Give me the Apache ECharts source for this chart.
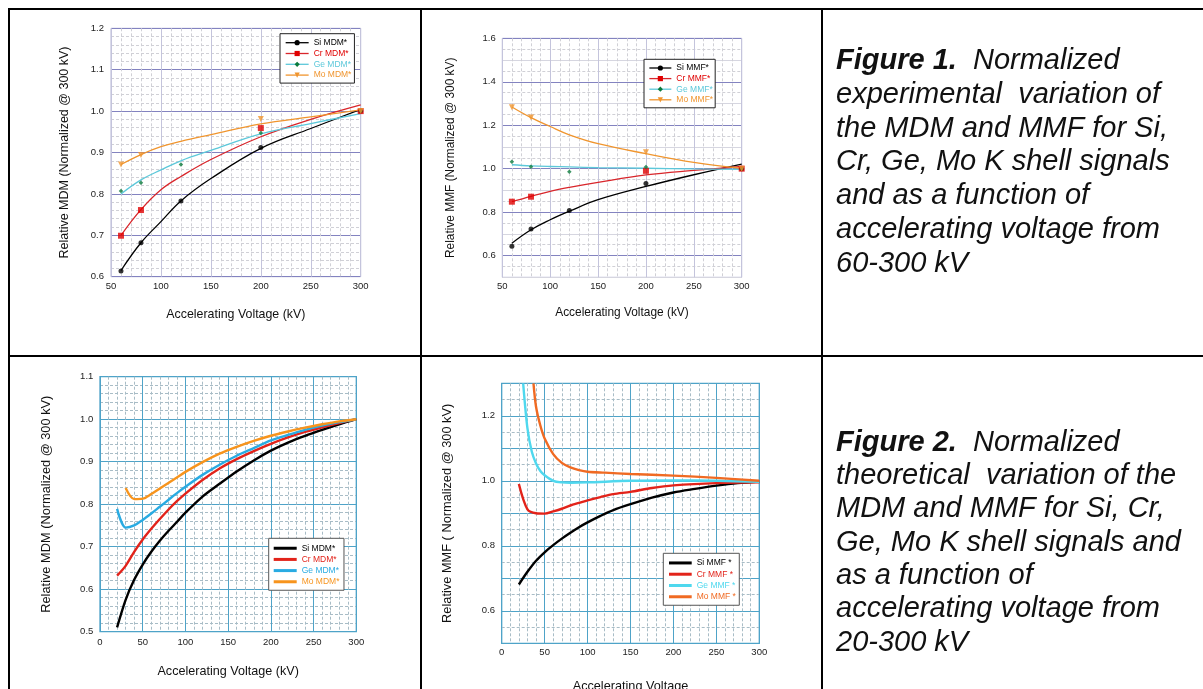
<!DOCTYPE html>
<html><head><meta charset="utf-8">
<script src="https://cdn.jsdelivr.net/npm/echarts@6/dist/echarts.min.js"></script>
<style>html,body{margin:0;padding:0;background:#fff;}#c{width:1203px;height:689px;}</style>
</head><body><div id="c"></div>
<script>
// ---------- Figure 1 (experimental) : fit curves ----------
const expFitX = [60, 80, 100, 120, 150, 200, 250, 300];
const mdmSiFit = [0.615, 0.682, 0.733, 0.783, 0.837, 0.910, 0.958, 1.004];
const mdmCrFit = [0.700, 0.762, 0.810, 0.842, 0.883, 0.938, 0.980, 1.015];
const mdmGeFit = [0.800, 0.834, 0.858, 0.880, 0.905, 0.945, 0.970, 0.994];
const mdmMoFit = [0.871, 0.895, 0.914, 0.927, 0.943, 0.969, 0.986, 1.003];
// measured points
const ptsX5 = [60, 80, 120, 200, 300];
const ptsX4 = [60, 80, 200, 300];
const mdmSiPts = [0.614, 0.682, 0.783, 0.912, 1.0];
const mdmCrPts = [0.699, 0.761, 0.959, 1.0];
const mdmGePts = [0.807, 0.827, 0.871, 0.947, 1.0];
const mdmMoPts = [0.871, 0.894, 0.981, 1.0];

const mmfSiFit = [0.657, 0.719, 0.765, 0.804, 0.857, 0.918, 0.972, 1.021];
const mmfCrFit = [0.848, 0.873, 0.896, 0.914, 0.937, 0.971, 0.992, 1.010];
const mmfGeFit = [1.018, 1.013, 1.010, 1.008, 1.005, 1.002, 0.999, 0.997];
const mmfMoFit = [1.284, 1.235, 1.194, 1.156, 1.115, 1.069, 1.029, 1.002];
const mmfSiPts = [0.643, 0.722, 0.808, 0.932, 1.0];
const mmfCrPts = [0.848, 0.871, 0.990, 1.0];
const mmfGePts = [1.032, 1.009, 0.986, 1.008, 1.0];
const mmfMoPts = [1.283, 1.236, 1.076, 1.0];

// ---------- Figure 2 (theoretical) ----------
const thX = [20, 30, 40, 50, 60, 70, 80, 90, 100, 120, 140, 160, 180, 200, 220, 240, 260, 280, 300];
const tMdmSi = [0.510, 0.575, 0.622, 0.658, 0.688, 0.714, 0.737, 0.758, 0.780, 0.818, 0.848, 0.877, 0.903, 0.926, 0.945, 0.961, 0.975, 0.988, 1.0];
const tMdmCr = [0.632, 0.655, 0.688, 0.717, 0.742, 0.765, 0.787, 0.807, 0.825, 0.857, 0.884, 0.906, 0.925, 0.942, 0.957, 0.970, 0.981, 0.991, 1.0];
const tMdmGe = [0.789, 0.745, 0.750, 0.763, 0.778, 0.794, 0.810, 0.826, 0.841, 0.869, 0.893, 0.914, 0.932, 0.950, 0.963, 0.975, 0.985, 0.993, 1.0];
const tMdmMo = [null, 0.838, 0.812, 0.813, 0.824, 0.837, 0.850, 0.863, 0.876, 0.899, 0.919, 0.935, 0.949, 0.961, 0.971, 0.980, 0.988, 0.995, 1.0];

const tMmfSiX = [20, 30, 40, 50, 60, 70, 80, 90, 100, 115, 130, 150, 175, 200, 225, 250, 275, 300];
const tMmfSi  = [0.681, 0.720, 0.754, 0.780, 0.802, 0.822, 0.840, 0.857, 0.872, 0.892, 0.910, 0.928, 0.948, 0.964, 0.975, 0.985, 0.993, 0.998];
const tMmfCrX = [20, 30, 40, 50, 60, 70, 80, 90, 100, 115, 130, 150, 175, 200, 250, 300];
const tMmfCr  = [0.990, 0.912, 0.900, 0.899, 0.906, 0.914, 0.924, 0.932, 0.940, 0.950, 0.959, 0.966, 0.978, 0.986, 0.993, 0.995];
const tMmfGeX = [25, 30, 35, 40, 45, 50, 60, 70, 80, 100, 150, 200, 250, 300];
const tMmfGe  = [1.300, 1.161, 1.090, 1.053, 1.030, 1.017, 1.000, 0.995, 0.994, 0.995, 1.000, 1.001, 1.000, 0.997];
const tMmfMoX = [37, 40, 45, 50, 60, 70, 80, 90, 100, 120, 150, 200, 250, 300];
const tMmfMo  = [1.300, 1.228, 1.170, 1.130, 1.082, 1.055, 1.041, 1.033, 1.028, 1.025, 1.021, 1.016, 1.009, 1.000];

// captions
const cap1 = ['{b|Figure 1.}  Normalized', 'experimental  variation of', 'the MDM and MMF for Si,', 'Cr, Ge, Mo K shell signals', 'and as a function of', 'accelerating voltage from', '60-300 kV'];
const cap2 = ['{b|Figure 2.}  Normalized', 'theoretical  variation of the', 'MDM and MMF for Si, Cr,', 'Ge, Mo K shell signals and', 'as a function of', 'accelerating voltage from', '20-300 kV'];

const FONT = '"Liberation Sans", Arial, Helvetica, sans-serif';
const P = (xs, ys) => xs.map((x, i) => [x, ys[i]]).filter(d => d[1] != null);
const f1 = v => v.toFixed(1);
const fEven = v => (Math.round(v * 10) % 2 === 0 ? v.toFixed(1) : '');

const C = {
  si: '#000000', cr: '#d9262b', crM: '#e00000', geL: '#5cc8da', geM: '#0b7a3c', mo: '#f0952e',
  t_si: '#000000', t_cr: '#e2231a', t_ge: '#29abe2', t_mo: '#f7941d',
  m_ge: '#4fd8ee', m_mo: '#f06a22'
};

function xAx(gi, min, name, nameGap, nameSize, margin, major, minor) {
  return {
    type: 'value', gridIndex: gi, min: min, max: 300, interval: 50,
    name: name, nameLocation: 'middle', nameGap: nameGap,
    nameTextStyle: { fontSize: nameSize, color: '#111', fontFamily: FONT },
    axisLine: { show: false }, axisTick: { show: false },
    axisLabel: { fontSize: 9.5, color: '#222', margin: margin, fontFamily: FONT },
    splitLine: { show: true, lineStyle: { color: major, width: 1 } },
    minorTick: { show: false, splitNumber: 5 },
    minorSplitLine: { show: true, lineStyle: { color: minor, width: 1, type: [3, 2] } }
  };
}
function yAx(gi, min, max, interval, minorN, name, nameGap, nameSize, margin, major, minor, fmt) {
  return {
    type: 'value', gridIndex: gi, min: min, max: max, interval: interval,
    name: name, nameLocation: 'middle', nameGap: nameGap,
    nameTextStyle: { fontSize: nameSize, color: '#111', fontFamily: FONT },
    axisLine: { show: false }, axisTick: { show: false },
    axisLabel: { fontSize: 9.5, color: '#222', margin: margin, fontFamily: FONT, formatter: fmt },
    splitLine: { show: true, lineStyle: { color: major, width: 1 } },
    minorTick: { show: false, splitNumber: minorN },
    minorSplitLine: { show: true, lineStyle: { color: minor, width: 1, type: [3, 2] } }
  };
}
function fitLine(name, gi, xs, ys, color, markColor, symbol, rot) {
  return {
    name: name, type: 'line', xAxisIndex: gi, yAxisIndex: gi, data: P(xs, ys), smooth: 0.4,
    showSymbol: false, symbol: symbol, symbolRotate: rot || 0,
    lineStyle: { color: color, width: 1.3 }, itemStyle: { color: markColor }, z: 3
  };
}
function pts(gi, xs, ys, color, symbol, size, rot) {
  return {
    name: 'pts', type: 'scatter', xAxisIndex: gi, yAxisIndex: gi, data: P(xs, ys),
    symbol: symbol, symbolSize: size, symbolRotate: rot || 0, itemStyle: { color: color }, z: 5
  };
}
function thLine(name, gi, xs, ys, color) {
  return {
    name: name, type: 'line', xAxisIndex: gi, yAxisIndex: gi, data: P(xs, ys), smooth: 0.3,
    showSymbol: false, symbol: 'none', lineStyle: { color: color, width: 2.4 }, itemStyle: { color: color }, z: 3
  };
}
function legendFor(left, top, pad, iw, ih, gap, fs, bc, icon, items) {
  return {
    orient: 'vertical', left: left, top: top, itemWidth: iw, itemHeight: ih, itemGap: gap,
    padding: pad, borderColor: bc, borderWidth: 1, backgroundColor: '#fff', selectedMode: false,
    textStyle: { fontSize: fs, fontFamily: FONT },
    formatter: n => n.split('|')[0],
    data: items.map(it => {
      const d = { name: it[0], itemStyle: { color: it[2], borderWidth: 0 }, lineStyle: { color: it[1], width: it[4] }, textStyle: { color: it[3] } };
      if (icon) d.icon = icon;
      return d;
    })
  };
}

const capStyle = (lines, lh) => ({
  text: lines.join('\n'), fontSize: 29, fontFamily: FONT, fontStyle: 'italic', fill: '#111', lineHeight: lh,
  rich: { b: { fontSize: 29, fontFamily: FONT, fontStyle: 'italic', fontWeight: 'bold', fill: '#111', lineHeight: lh } }
});

const borderFill = '#000';
const gridBase = { show: true, backgroundColor: '#fff', containLabel: false, outerBoundsMode: 'none' };
const option = {
  animation: false,
  backgroundColor: '#fff',
  grid: [
    Object.assign({ left: 111, top: 28.3, width: 249.7, height: 248.4, borderColor: '#b4b4d4', borderWidth: 1 }, gridBase),
    Object.assign({ left: 502.3, top: 38.3, width: 239.4, height: 239, borderColor: '#b4b4d4', borderWidth: 1 }, gridBase),
    Object.assign({ left: 100, top: 376.7, width: 256.3, height: 255, borderColor: '#4ea3c8', borderWidth: 1.3 }, gridBase),
    Object.assign({ left: 501.7, top: 383.3, width: 257.6, height: 260, borderColor: '#4ea3c8', borderWidth: 1.3 }, gridBase)
  ],
  xAxis: [
    xAx(0, 50, 'Accelerating Voltage (kV)', 31.5, 12.4, 4.8, '#c4c4dc', '#d0d0d6'),
    xAx(1, 50, 'Accelerating Voltage (kV)', 29.4, 11.9, 3.9, '#c4c4dc', '#d0d0d6'),
    xAx(2, 0, 'Accelerating Voltage (kV)', 33, 12.6, 5.5, '#4ea3c8', '#a8bcc6'),
    xAx(3, 0, 'Accelerating Voltage', 37, 12.7, 3.9, '#4ea3c8', '#a8bcc6')
  ],
  yAxis: [
    yAx(0, 0.6, 1.2, 0.1, 5, 'Relative MDM (Normalized @ 300 kV)', 39.5, 12.5, 7, '#8383c0', '#d0d0d6', f1),
    (function () { const a = yAx(1, 0.5, 1.6, 0.1, 2, 'Relative MMF (Normalized @ 300 kV)', 46, 11.9, 6.6, '#8383c0', '#d0d0d6', fEven);
      a.splitLine.lineStyle.color = ['#d6d6e0', '#8383c0']; return a; })(),
    yAx(2, 0.5, 1.1, 0.1, 5, 'Relative MDM (Normalized @ 300 kV)', 47, 12.8, 6.7, '#4ea3c8', '#a8bcc6', f1),
    yAx(3, 0.5, 1.3, 0.1, 2, 'Relative MMF ( Normalized @ 300 kV)', 47.5, 12.8, 6.7, '#4ea3c8', '#a8bcc6', fEven)
  ],
  legend: [
    legendFor(280, 33.7, [4.5, 3, 3.5, 5], 23, 6.5, 1.8, 8.5, '#222', null, [
      ['Si MDM*|1', C.si, C.si, '#000', 1.3], ['Cr MDM*|1', C.cr, C.crM, '#e00000', 1.3],
      ['Ge MDM*|1', C.geL, C.geM, C.geL, 1.3], ['Mo MDM*|1', C.mo, C.mo, C.mo, 1.3]]),
    legendFor(644, 59.3, [4.2, 2, 3.5, 4.7], 22, 6.5, 1.6, 8.5, '#222', null, [
      ['Si MMF*|2', C.si, C.si, '#000', 1.3], ['Cr MMF*|2', C.cr, C.crM, '#e00000', 1.3],
      ['Ge MMF*|2', C.geL, C.geM, C.geL, 1.3], ['Mo MMF*|2', C.mo, C.mo, C.mo, 1.3]]),
    legendFor(268.7, 538.3, [5.45, 4.5, 4, 5], 23, 3, 2.17, 8.5, '#555', 'rect', [
      ['Si MDM*|3', C.t_si, C.t_si, '#000', 3], ['Cr MDM*|3', C.t_cr, C.t_cr, C.t_cr, 3],
      ['Ge MDM*|3', C.t_ge, C.t_ge, C.t_ge, 3], ['Mo MDM*|3', C.t_mo, C.t_mo, C.t_mo, 3]]),
    legendFor(663.3, 553.3, [5.15, 3.4, 4, 5.7], 22.7, 3, 2.27, 8.5, '#555', 'rect', [
      ['Si MMF *|4', C.t_si, C.t_si, '#000', 3], ['Cr MMF *|4', C.t_cr, C.t_cr, C.t_cr, 3],
      ['Ge MMF *|4', C.m_ge, C.m_ge, C.m_ge, 3], ['Mo MMF *|4', C.m_mo, C.m_mo, C.m_mo, 3]])
  ],
  series: [
    fitLine('Si MDM*|1', 0, expFitX, mdmSiFit, C.si, C.si, 'circle'),
    fitLine('Cr MDM*|1', 0, expFitX, mdmCrFit, C.cr, C.crM, 'rect'),
    fitLine('Ge MDM*|1', 0, expFitX, mdmGeFit, C.geL, C.geM, 'diamond'),
    fitLine('Mo MDM*|1', 0, expFitX, mdmMoFit, C.mo, C.mo, 'triangle', 180),
    pts(0, ptsX5, mdmSiPts, C.si, 'circle', 5),
    pts(0, ptsX4, mdmCrPts, C.crM, 'rect', 6),
    pts(0, ptsX5, mdmGePts, C.geM, 'diamond', 4.5),
    pts(0, ptsX4, mdmMoPts, C.mo, 'triangle', 6, 180),

    fitLine('Si MMF*|2', 1, expFitX, mmfSiFit, C.si, C.si, 'circle'),
    fitLine('Cr MMF*|2', 1, expFitX, mmfCrFit, C.cr, C.crM, 'rect'),
    fitLine('Ge MMF*|2', 1, expFitX, mmfGeFit, C.geL, C.geM, 'diamond'),
    fitLine('Mo MMF*|2', 1, expFitX, mmfMoFit, C.mo, C.mo, 'triangle', 180),
    pts(1, ptsX5, mmfSiPts, C.si, 'circle', 5),
    pts(1, ptsX4, mmfCrPts, C.crM, 'rect', 6),
    pts(1, ptsX5, mmfGePts, C.geM, 'diamond', 4.5),
    pts(1, ptsX4, mmfMoPts, C.mo, 'triangle', 6, 180),

    thLine('Si MDM*|3', 2, thX, tMdmSi, C.t_si),
    thLine('Cr MDM*|3', 2, thX, tMdmCr, C.t_cr),
    thLine('Ge MDM*|3', 2, thX, tMdmGe, C.t_ge),
    thLine('Mo MDM*|3', 2, thX, tMdmMo, C.t_mo),

    thLine('Si MMF *|4', 3, tMmfSiX, tMmfSi, C.t_si),
    thLine('Cr MMF *|4', 3, tMmfCrX, tMmfCr, C.t_cr),
    thLine('Ge MMF *|4', 3, tMmfGeX, tMmfGe, C.m_ge),
    thLine('Mo MMF *|4', 3, tMmfMoX, tMmfMo, C.m_mo)
  ],
  graphic: [
    { type: 'rect', shape: { x: 8, y: 8, width: 1195, height: 2 }, style: { fill: borderFill }, z: 100 },
    { type: 'rect', shape: { x: 8, y: 355, width: 1195, height: 2 }, style: { fill: borderFill }, z: 100 },
    { type: 'rect', shape: { x: 8, y: 8, width: 2, height: 681 }, style: { fill: borderFill }, z: 100 },
    { type: 'rect', shape: { x: 420, y: 8, width: 2, height: 681 }, style: { fill: borderFill }, z: 100 },
    { type: 'rect', shape: { x: 821, y: 8, width: 2, height: 681 }, style: { fill: borderFill }, z: 100 },
    { type: 'text', left: 836, top: 44, style: capStyle(cap1, 33.8), z: 100 },
    { type: 'text', left: 836, top: 426, style: capStyle(cap2, 33.3), z: 100 }
  ]
};
const chart = echarts.init(document.getElementById('c'), null, { renderer: 'canvas' });
chart.setOption(option);
</script>
</body></html>
